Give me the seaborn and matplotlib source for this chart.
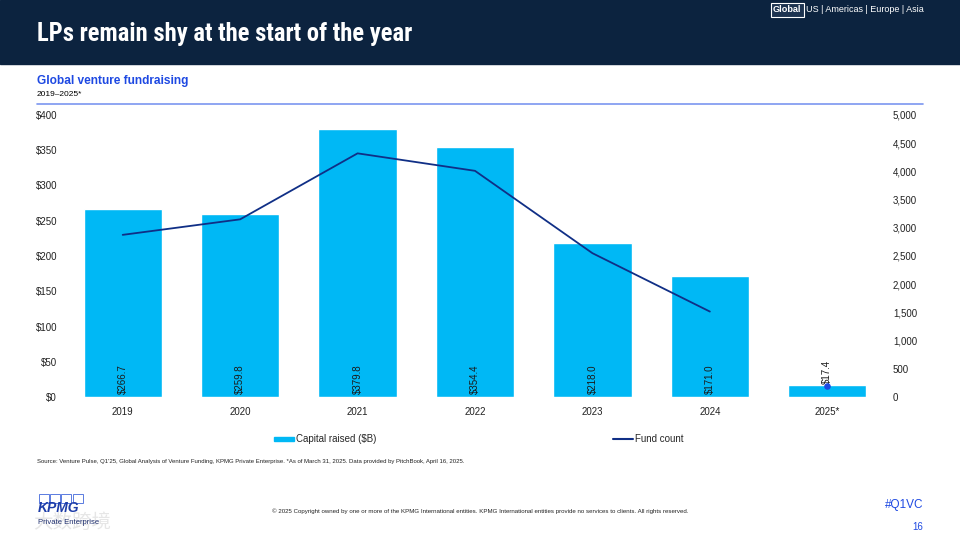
import numpy as np
import pandas as pd
import matplotlib
matplotlib.use('Agg')
import matplotlib.pyplot as plt
import matplotlib.patches as mpatches
from matplotlib.lines import Line2D
from matplotlib.ticker import FuncFormatter, MultipleLocator
import seaborn as sns

# Veriler
years = ['2019', '2020', '2021', '2022', '2023', '2024', '2025*']
capital = [266.7, 259.8, 379.8, 354.4, 218.0, 171.0, 17.4]
fund_count = [2875, 3150, 4320, 4010, 2550, 1515, 200]
bar_labels = ['$266.7', '$259.8', '$379.8', '$354.4', '$218.0', '$171.0', '$17.4']

NAVY = '#0C233F'
CYAN = '#00B8F5'
LINE = '#102F86'
COBALT = '#1E49E2'

sns.set_style('white')
plt.rcParams['font.family'] = ['Liberation Sans', 'DejaVu Sans']

fig = plt.figure(figsize=(9.6, 5.4), dpi=100)
renderer = fig.canvas.get_renderer()

# Üst başlık bandı
fig.patches.append(mpatches.Rectangle((0, 1 - 64 / 540), 1, 64 / 540, transform=fig.transFigure,
                                      color=NAVY, zorder=0))
title = fig.text(37 / 960, 1 - 34 / 540, 'LPs remain shy at the start of the year', color='white',
                 fontsize=19, fontweight='bold',
                 family=['Roboto Condensed', 'DejaVu Sans Condensed', 'Liberation Sans'],
                 stretch='condensed', va='center', ha='left')
# başlığı referans genişliğine sığdır
w = title.get_window_extent(renderer).width
if w > 378:
    title.set_fontsize(19 * 376 / w)

fig.text(773 / 960, 1 - 10 / 540, 'Global', color='white', fontsize=6.6, fontweight='bold',
         va='center', ha='left',
         bbox=dict(boxstyle='square,pad=0.25', fc='#1d3350', ec='white', lw=0.8))
fig.text(806 / 960, 1 - 10 / 540, 'US | Americas | Europe | Asia', color='white', fontsize=6.5,
         va='center', ha='left')

# Alt başlık
fig.text(37 / 960, 1 - 81 / 540, 'Global venture fundraising', color=COBALT, fontsize=8.6,
         fontweight='bold', va='center', ha='left')
fig.text(37 / 960, 1 - 95 / 540, '2019–2025*', color='black', fontsize=6, va='center', ha='left')
fig.add_artist(Line2D([37 / 960, 923 / 960], [1 - 104 / 540, 1 - 104 / 540],
                      transform=fig.transFigure, color='#7B96F0', lw=1.2))

# Grafik
ax = fig.add_axes([64 / 960, 143 / 540, 822 / 960, 282 / 540])
df = pd.DataFrame({'year': years, 'capital': capital, 'funds': fund_count})
sns.barplot(data=df, x='year', y='capital', color=CYAN, width=0.667, ax=ax, saturation=1)
ax.set_ylim(0, 400)
ax.set_xlim(-0.5, len(years) - 0.5)
ax.yaxis.set_major_locator(MultipleLocator(50))
ax.yaxis.set_major_formatter(FuncFormatter(lambda v, p: f'${v:.0f}'))
ax.set_xlabel('')
ax.set_ylabel('')
for s in ax.spines.values():
    s.set_visible(False)
ax.tick_params(axis='y', length=0, labelsize=7, colors='#222222', pad=5)
ax.tick_params(axis='x', length=0, labelsize=7, colors='#222222', pad=7)

for i, (val, lab) in enumerate(zip(capital, bar_labels)):
    y = val + 1 if val < 50 else 4
    ax.text(i, y, lab, rotation=90, ha='center', va='bottom', fontsize=7, color='#1a1a1a')

ax2 = ax.twinx()
sns.lineplot(x=years[:6], y=fund_count[:6], color=LINE, lw=1.3, ax=ax2, sort=False)
ax2.scatter(years[6:], fund_count[6:], color=COBALT, s=14, zorder=5)
ax2.set_ylim(0, 5000)
ax2.yaxis.set_major_locator(MultipleLocator(500))
ax2.yaxis.set_major_formatter(FuncFormatter(lambda v, p: f'{v:,.0f}'))
for s in ax2.spines.values():
    s.set_visible(False)
ax2.tick_params(axis='y', length=0, labelsize=7, colors='#222222', pad=5)
ax2.set_ylabel('')

# Lejant
fig.patches.append(mpatches.Rectangle((274 / 960, 1 - 441 / 540), 20 / 960, 4 / 540,
                                      transform=fig.transFigure, color=CYAN))
fig.text(296 / 960, 1 - 439 / 540, 'Capital raised ($B)', fontsize=7, va='center', ha='left')
fig.add_artist(Line2D([613 / 960, 633 / 960], [1 - 439 / 540, 1 - 439 / 540],
                      transform=fig.transFigure, color=LINE, lw=1.5))
fig.text(635 / 960, 1 - 439 / 540, 'Fund count', fontsize=7, va='center', ha='left')

fig.text(37 / 960, 1 - 461 / 540,
         "Source: Venture Pulse, Q1'25, Global Analysis of Venture Funding, KPMG Private Enterprise. "
         "*As of March 31, 2025. Data provided by PitchBook, April 16, 2025.",
         fontsize=4.35, va='center', ha='left', color='#222222')

# Alt bilgi
for k in range(4):
    fig.patches.append(mpatches.Rectangle(((39 + k * 11.2) / 960, 1 - 503 / 540), 10 / 960, 9 / 540,
                                          transform=fig.transFigure, fill=False,
                                          ec='#5A7BE0', lw=0.7))
fig.text(38 / 960, 1 - 508 / 540, 'KPMG', color='#1E3DA8', fontsize=10, fontweight='bold',
         style='italic', va='center', ha='left')
fig.text(38 / 960, 1 - 523 / 540, 'Private Enterprise', color='#1E2E6E', fontsize=5.5,
         va='center', ha='left')
fig.text(72 / 960, 1 - 522 / 540, '大数跨境', color='#dcdcdc', fontsize=14, alpha=0.7,
         family=['Noto Sans CJK SC', 'DejaVu Sans'], va='center', ha='center', zorder=0)
fig.text(480 / 960, 1 - 511 / 540,
         '© 2025 Copyright owned by one or more of the KPMG International entities. KPMG International '
         'entities provide no services to clients. All rights reserved.',
         fontsize=4.4, va='center', ha='center', color='#222222')
fig.text(923 / 960, 1 - 505 / 540, '#Q1VC', color=COBALT, fontsize=8.5, va='center', ha='right')
fig.text(923 / 960, 1 - 527 / 540, '16', color=COBALT, fontsize=7, va='center', ha='right')

fig.savefig('out.png', dpi=100)
